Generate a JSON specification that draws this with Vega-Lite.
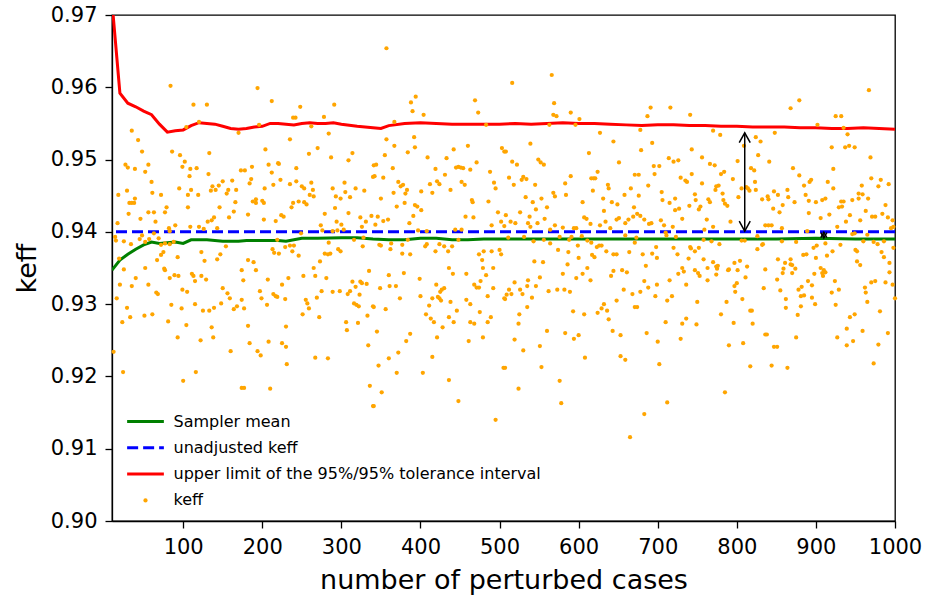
{
"$schema": "https://vega.github.io/schema/vega-lite/v6.json",
"width": 783, "height": 506,
"autosize": {"type": "none"},
"padding": {"left": 112, "top": 15, "right": 32, "bottom": 80},
"background": "white",
"config": {
  "view": {"stroke": "black", "strokeWidth": 1.3},
  "font": "DejaVu Sans",
  "axis": {"grid": false, "domainColor": "black", "domainWidth": 1.3, "tickColor": "black", "tickWidth": 1.3, "tickSize": 7, "labelColor": "black", "labelFont": "DejaVu Sans", "labelFontSize": 21, "titleFont": "DejaVu Sans", "titleFontSize": 27, "titleFontWeight": "normal", "titleColor": "black", "labelPadding": 8, "labelOverlap": false, "labelFlush": false}
},
"datasets": {
  "mean": [
    {"case":10,"keff":0.9347},{"case":20,"keff":0.9361},{"case":30,"keff":0.9369},{"case":40,"keff":0.9376},{"case":50,"keff":0.9382},{"case":60,"keff":0.9386},{"case":70,"keff":0.9384},{"case":80,"keff":0.9385},{"case":90,"keff":0.9386},{"case":100,"keff":0.9384},{"case":110,"keff":0.9389},{"case":120,"keff":0.9389},{"case":130,"keff":0.9389},{"case":140,"keff":0.9388},{"case":150,"keff":0.9387},{"case":160,"keff":0.9387},{"case":170,"keff":0.9387},{"case":180,"keff":0.9388},{"case":200,"keff":0.9388},{"case":220,"keff":0.9388},{"case":230,"keff":0.9387},{"case":240,"keff":0.9389},{"case":250,"keff":0.9391},{"case":270,"keff":0.9391},{"case":300,"keff":0.9392},{"case":320,"keff":0.9392},{"case":340,"keff":0.9390},{"case":360,"keff":0.9389},{"case":380,"keff":0.9389},{"case":400,"keff":0.9391},{"case":420,"keff":0.9391},{"case":440,"keff":0.9389},{"case":460,"keff":0.9389},{"case":480,"keff":0.9390},{"case":500,"keff":0.9390},{"case":550,"keff":0.9390},{"case":600,"keff":0.9390},{"case":650,"keff":0.9390},{"case":700,"keff":0.9390},{"case":750,"keff":0.9390},{"case":800,"keff":0.9390},{"case":850,"keff":0.9390},{"case":900,"keff":0.9391},{"case":950,"keff":0.9390},{"case":1000,"keff":0.9390}
  ],
  "limit": [
    {"case":10,"keff":0.9718},{"case":20,"keff":0.9592},{"case":30,"keff":0.9578},{"case":40,"keff":0.9573},{"case":50,"keff":0.9567},{"case":60,"keff":0.9562},{"case":70,"keff":0.9549},{"case":80,"keff":0.9538},{"case":90,"keff":0.9540},{"case":100,"keff":0.9541},{"case":110,"keff":0.9547},{"case":120,"keff":0.9551},{"case":130,"keff":0.9550},{"case":140,"keff":0.9549},{"case":150,"keff":0.9546},{"case":160,"keff":0.9543},{"case":170,"keff":0.9542},{"case":180,"keff":0.9543},{"case":190,"keff":0.9545},{"case":200,"keff":0.9546},{"case":210,"keff":0.9550},{"case":220,"keff":0.9550},{"case":230,"keff":0.9549},{"case":240,"keff":0.9548},{"case":250,"keff":0.9550},{"case":260,"keff":0.9551},{"case":270,"keff":0.9550},{"case":280,"keff":0.9550},{"case":290,"keff":0.9551},{"case":300,"keff":0.9549},{"case":320,"keff":0.9546},{"case":340,"keff":0.9544},{"case":350,"keff":0.9543},{"case":360,"keff":0.9547},{"case":380,"keff":0.9550},{"case":400,"keff":0.9551},{"case":420,"keff":0.9550},{"case":440,"keff":0.9549},{"case":460,"keff":0.9549},{"case":480,"keff":0.9549},{"case":500,"keff":0.9549},{"case":520,"keff":0.9550},{"case":540,"keff":0.9549},{"case":560,"keff":0.9550},{"case":580,"keff":0.9551},{"case":600,"keff":0.9550},{"case":620,"keff":0.9550},{"case":640,"keff":0.9549},{"case":660,"keff":0.9548},{"case":680,"keff":0.9547},{"case":700,"keff":0.9548},{"case":720,"keff":0.9548},{"case":740,"keff":0.9547},{"case":760,"keff":0.9547},{"case":780,"keff":0.9546},{"case":800,"keff":0.9546},{"case":820,"keff":0.9545},{"case":840,"keff":0.9545},{"case":860,"keff":0.9545},{"case":880,"keff":0.9544},{"case":900,"keff":0.9544},{"case":920,"keff":0.9543},{"case":940,"keff":0.9543},{"case":960,"keff":0.9544},{"case":980,"keff":0.9543},{"case":1000,"keff":0.9542}
  ],
  "longArrow": [{"case":810,"lower":0.9401,"upper":0.9537}],
  "shortArrow": [{"case":910,"lower":0.93915,"upper":0.93995}],
  "samples": [
{"case":84,"keff":0.9602},{"case":113,"keff":0.9576},{"case":130,"keff":0.9576},{"case":104,"keff":0.9545},{"case":120,"keff":0.9552},{"case":170,"keff":0.9537},{"case":35,"keff":0.9540},{"case":43,"keff":0.9527},{"case":48,"keff":0.9511},{"case":86,"keff":0.9511},{"case":96,"keff":0.9506},{"case":133,"keff":0.9509},{"case":102,"keff":0.9497},{"case":27,"keff":0.9493},{"case":30,"keff":0.9489},{"case":39,"keff":0.9487},{"case":56,"keff":0.9493},{"case":52,"keff":0.9483},{"case":99,"keff":0.9490},{"case":109,"keff":0.9487},{"case":117,"keff":0.9488},{"case":108,"keff":0.9477},{"case":132,"keff":0.9480},{"case":173,"keff":0.9485},{"case":60,"keff":0.9469},{"case":95,"keff":0.9460},{"case":110,"keff":0.9458},{"case":18,"keff":0.9451},{"case":29,"keff":0.9457},{"case":61,"keff":0.9454},{"case":72,"keff":0.9451},{"case":106,"keff":0.9451},{"case":119,"keff":0.9451},{"case":135,"keff":0.9457},{"case":141,"keff":0.9458},{"case":137,"keff":0.9463},{"case":145,"keff":0.9464},{"case":150,"keff":0.9470},{"case":162,"keff":0.9471},{"case":157,"keff":0.9458},{"case":155,"keff":0.9453},{"case":167,"keff":0.9458},{"case":39,"keff":0.9446},{"case":35,"keff":0.9440},{"case":32,"keff":0.9440},{"case":38,"keff":0.9440},{"case":56,"keff":0.9427},{"case":63,"keff":0.9427},{"case":31,"keff":0.9425},{"case":77,"keff":0.9427},{"case":79,"keff":0.9434},{"case":106,"keff":0.9434},{"case":146,"keff":0.9434},{"case":166,"keff":0.9441},{"case":164,"keff":0.9428},{"case":158,"keff":0.9420},{"case":139,"keff":0.9420},{"case":136,"keff":0.9416},{"case":131,"keff":0.9414},{"case":17,"keff":0.9412},{"case":65,"keff":0.9414},{"case":46,"keff":0.9418},{"case":90,"keff":0.9409},{"case":109,"keff":0.9407},{"case":120,"keff":0.9407},{"case":126,"keff":0.9404},{"case":143,"keff":0.9405},{"case":14,"keff":0.9393},{"case":15,"keff":0.9388},{"case":25,"keff":0.9387},{"case":34,"keff":0.9383},{"case":45,"keff":0.9390},{"case":48,"keff":0.9395},{"case":52,"keff":0.9386},{"case":57,"keff":0.9390},{"case":69,"keff":0.9391},{"case":72,"keff":0.9382},{"case":82,"keff":0.9405},{"case":83,"keff":0.9401},{"case":88,"keff":0.9386},{"case":63,"keff":0.9398},{"case":77,"keff":0.9384},{"case":83,"keff":0.9383},{"case":75,"keff":0.9372},{"case":72,"keff":0.9368},{"case":67,"keff":0.9361},{"case":93,"keff":0.9365},{"case":123,"keff":0.9372},{"case":127,"keff":0.9360},{"case":147,"keff":0.9369},{"case":143,"keff":0.9362},{"case":154,"keff":0.9380},{"case":174,"keff":0.9347},{"case":19,"keff":0.9363},{"case":25,"keff":0.9348},{"case":52,"keff":0.9350},{"case":76,"keff":0.9349},{"case":77,"keff":0.9347},{"case":83,"keff":0.9336},{"case":89,"keff":0.9340},{"case":94,"keff":0.9339},{"case":111,"keff":0.9342},{"case":113,"keff":0.9339},{"case":115,"keff":0.9332},{"case":123,"keff":0.9339},{"case":129,"keff":0.9334},{"case":40,"keff":0.9336},{"case":20,"keff":0.9327},{"case":35,"keff":0.9325},{"case":56,"keff":0.9327},{"case":66,"keff":0.9316},{"case":68,"keff":0.9314},{"case":99,"keff":0.9320},{"case":105,"keff":0.9317},{"case":150,"keff":0.9322},{"case":156,"keff":0.9315},{"case":159,"keff":0.9308},{"case":174,"keff":0.9306},{"case":16,"keff":0.9308},{"case":29,"keff":0.9295},{"case":85,"keff":0.9299},{"case":98,"keff":0.9294},{"case":115,"keff":0.9300},{"case":125,"keff":0.9291},{"case":133,"keff":0.9291},{"case":139,"keff":0.9295},{"case":148,"keff":0.9301},{"case":168,"keff":0.9297},{"case":164,"keff":0.9293},{"case":33,"keff":0.9282},{"case":23,"keff":0.9275},{"case":51,"keff":0.9284},{"case":61,"keff":0.9286},{"case":81,"keff":0.9276},{"case":104,"keff":0.9271},{"case":136,"keff":0.9268},{"case":93,"keff":0.9254},{"case":122,"keff":0.9250},{"case":138,"keff":0.9254},{"case":12,"keff":0.9234},{"case":160,"keff":0.9235},{"case":24,"keff":0.9206},{"case":116,"keff":0.9206},{"case":100,"keff":0.9194},{"case":174,"keff":0.9184},
{"case":194,"keff":0.9599},{"case":212,"keff":0.9581},{"case":248,"keff":0.9573},{"case":291,"keff":0.9576},{"case":239,"keff":0.9558},{"case":242,"keff":0.9558},{"case":278,"keff":0.9559},{"case":196,"keff":0.9548},{"case":262,"keff":0.9546},{"case":284,"keff":0.9536},{"case":235,"keff":0.9528},{"case":204,"keff":0.9514},{"case":270,"keff":0.9516},{"case":259,"keff":0.9508},{"case":287,"keff":0.9503},{"case":314,"keff":0.9509},{"case":309,"keff":0.9499},{"case":208,"keff":0.9493},{"case":220,"keff":0.9495},{"case":221,"keff":0.9494},{"case":243,"keff":0.9488},{"case":187,"keff":0.9490},{"case":178,"keff":0.9485},{"case":212,"keff":0.9482},{"case":341,"keff":0.9492},{"case":340,"keff":0.9476},{"case":186,"keff":0.9473},{"case":184,"keff":0.9467},{"case":223,"keff":0.9472},{"case":243,"keff":0.9470},{"case":235,"keff":0.9466},{"case":250,"keff":0.9463},{"case":253,"keff":0.9460},{"case":262,"keff":0.9468},{"case":264,"keff":0.9458},{"case":260,"keff":0.9451},{"case":265,"keff":0.9449},{"case":289,"keff":0.9460},{"case":304,"keff":0.9468},{"case":305,"keff":0.9455},{"case":318,"keff":0.9460},{"case":329,"keff":0.9457},{"case":311,"keff":0.9448},{"case":299,"keff":0.9446},{"case":293,"keff":0.9449},{"case":203,"keff":0.9460},{"case":214,"keff":0.9465},{"case":192,"keff":0.9445},{"case":188,"keff":0.9442},{"case":192,"keff":0.9440},{"case":200,"keff":0.9443},{"case":202,"keff":0.9440},{"case":239,"keff":0.9440},{"case":237,"keff":0.9434},{"case":246,"keff":0.9442},{"case":253,"keff":0.9441},{"case":256,"keff":0.9438},{"case":279,"keff":0.9425},{"case":292,"keff":0.9433},{"case":309,"keff":0.9426},{"case":324,"keff":0.9420},{"case":338,"keff":0.9422},{"case":182,"keff":0.9424},{"case":224,"keff":0.9423},{"case":227,"keff":0.9421},{"case":202,"keff":0.9417},{"case":217,"keff":0.9415},{"case":274,"keff":0.9409},{"case":276,"keff":0.9402},{"case":300,"keff":0.9410},{"case":294,"keff":0.9414},{"case":295,"keff":0.9402},{"case":303,"keff":0.9403},{"case":331,"keff":0.9414},{"case":326,"keff":0.9407},{"case":289,"keff":0.9401},{"case":249,"keff":0.9398},{"case":284,"keff":0.9385},{"case":316,"keff":0.9389},{"case":328,"keff":0.9392},{"case":219,"keff":0.9389},{"case":229,"keff":0.9379},{"case":235,"keff":0.9381},{"case":240,"keff":0.9381},{"case":213,"keff":0.9376},{"case":215,"keff":0.9371},{"case":221,"keff":0.9370},{"case":238,"keff":0.9373},{"case":246,"keff":0.9367},{"case":279,"keff":0.9370},{"case":283,"keff":0.9369},{"case":286,"keff":0.9370},{"case":296,"keff":0.9376},{"case":299,"keff":0.9373},{"case":327,"keff":0.9380},{"case":273,"keff":0.9359},{"case":182,"keff":0.9361},{"case":189,"keff":0.9358},{"case":192,"keff":0.9347},{"case":265,"keff":0.9350},{"case":267,"keff":0.9339},{"case":252,"keff":0.9339},{"case":281,"keff":0.9336},{"case":207,"keff":0.9334},{"case":233,"keff":0.9336},{"case":225,"keff":0.9327},{"case":176,"keff":0.9333},{"case":197,"keff":0.9318},{"case":199,"keff":0.9308},{"case":214,"keff":0.9314},{"case":217,"keff":0.9311},{"case":219,"keff":0.9310},{"case":229,"keff":0.9307},{"case":206,"keff":0.9299},{"case":255,"keff":0.9306},{"case":257,"keff":0.9301},{"case":259,"keff":0.9294},{"case":275,"keff":0.9318},{"case":269,"keff":0.9309},{"case":289,"keff":0.9317},{"case":298,"keff":0.9318},{"case":314,"keff":0.9331},{"case":311,"keff":0.9318},{"case":308,"keff":0.9314},{"case":318,"keff":0.9324},{"case":324,"keff":0.9331},{"case":326,"keff":0.9329},{"case":332,"keff":0.9328},{"case":323,"keff":0.9313},{"case":316,"keff":0.9301},{"case":319,"keff":0.9299},{"case":322,"keff":0.9297},{"case":335,"keff":0.9346},{"case":340,"keff":0.9297},{"case":177,"keff":0.9294},{"case":251,"keff":0.9286},{"case":272,"keff":0.9282},{"case":306,"keff":0.9275},{"case":307,"keff":0.9264},{"case":321,"keff":0.9274},{"case":333,"keff":0.9284},{"case":182,"keff":0.9270},{"case":230,"keff":0.9269},{"case":184,"keff":0.9246},{"case":208,"keff":0.9248},{"case":225,"keff":0.9246},{"case":230,"keff":0.9241},{"case":194,"keff":0.9235},{"case":198,"keff":0.9229},{"case":231,"keff":0.9217},{"case":267,"keff":0.9226},{"case":283,"keff":0.9225},{"case":334,"keff":0.9243},{"case":177,"keff":0.9184},{"case":210,"keff":0.9183},{"case":336,"keff":0.9187},{"case":340,"keff":0.9159},
{"case":357,"keff":0.9654},{"case":394,"keff":0.9587},{"case":388,"keff":0.9579},{"case":390,"keff":0.9567},{"case":404,"keff":0.9562},{"case":469,"keff":0.9582},{"case":473,"keff":0.9565},{"case":367,"keff":0.9552},{"case":483,"keff":0.9548},{"case":357,"keff":0.9528},{"case":392,"keff":0.9531},{"case":393,"keff":0.9517},{"case":367,"keff":0.9519},{"case":384,"keff":0.9510},{"case":355,"keff":0.9506},{"case":442,"keff":0.9514},{"case":460,"keff":0.9519},{"case":503,"keff":0.9516},{"case":506,"keff":0.9511},{"case":409,"keff":0.9503},{"case":433,"keff":0.9502},{"case":471,"keff":0.9496},{"case":344,"keff":0.9493},{"case":365,"keff":0.9488},{"case":419,"keff":0.9487},{"case":445,"keff":0.9489},{"case":448,"keff":0.9490},{"case":451,"keff":0.9489},{"case":454,"keff":0.9488},{"case":463,"keff":0.9486},{"case":488,"keff":0.9483},{"case":342,"keff":0.9477},{"case":353,"keff":0.9475},{"case":372,"keff":0.9469},{"case":375,"keff":0.9463},{"case":378,"keff":0.9465},{"case":383,"keff":0.9458},{"case":381,"keff":0.9453},{"case":366,"keff":0.9454},{"case":421,"keff":0.9470},{"case":424,"keff":0.9466},{"case":412,"keff":0.9466},{"case":431,"keff":0.9479},{"case":452,"keff":0.9469},{"case":456,"keff":0.9465},{"case":438,"keff":0.9458},{"case":415,"keff":0.9454},{"case":401,"keff":0.9456},{"case":493,"keff":0.9468},{"case":495,"keff":0.9460},{"case":465,"keff":0.9444},{"case":466,"keff":0.9441},{"case":486,"keff":0.9442},{"case":350,"keff":0.9446},{"case":380,"keff":0.9440},{"case":370,"keff":0.9435},{"case":393,"keff":0.9437},{"case":396,"keff":0.9435},{"case":401,"keff":0.9430},{"case":391,"keff":0.9422},{"case":386,"keff":0.9412},{"case":457,"keff":0.9421},{"case":467,"keff":0.9420},{"case":498,"keff":0.9427},{"case":502,"keff":0.9414},{"case":506,"keff":0.9408},{"case":490,"keff":0.9409},{"case":346,"keff":0.9421},{"case":343,"keff":0.9410},{"case":353,"keff":0.9415},{"case":359,"keff":0.9417},{"case":397,"keff":0.9402},{"case":408,"keff":0.9401},{"case":444,"keff":0.9403},{"case":452,"keff":0.9403},{"case":448,"keff":0.9389},{"case":384,"keff":0.9389},{"case":348,"keff":0.9382},{"case":350,"keff":0.9381},{"case":363,"keff":0.9384},{"case":362,"keff":0.9376},{"case":377,"keff":0.9382},{"case":387,"keff":0.9369},{"case":377,"keff":0.9370},{"case":406,"keff":0.9380},{"case":408,"keff":0.9383},{"case":419,"keff":0.9373},{"case":424,"keff":0.9383},{"case":430,"keff":0.9380},{"case":435,"keff":0.9373},{"case":440,"keff":0.9380},{"case":474,"keff":0.9369},{"case":480,"keff":0.9373},{"case":490,"keff":0.9373},{"case":500,"keff":0.9375},{"case":502,"keff":0.9369},{"case":478,"keff":0.9361},{"case":479,"keff":0.9350},{"case":492,"keff":0.9350},{"case":483,"keff":0.9340},{"case":436,"keff":0.9350},{"case":441,"keff":0.9342},{"case":458,"keff":0.9342},{"case":360,"keff":0.9340},{"case":379,"keff":0.9343},{"case":399,"keff":0.9335},{"case":349,"keff":0.9322},{"case":361,"keff":0.9325},{"case":369,"keff":0.9325},{"case":420,"keff":0.9327},{"case":430,"keff":0.9322},{"case":427,"keff":0.9320},{"case":425,"keff":0.9317},{"case":468,"keff":0.9327},{"case":471,"keff":0.9323},{"case":474,"keff":0.9323},{"case":476,"keff":0.9332},{"case":492,"keff":0.9322},{"case":400,"keff":0.9311},{"case":374,"keff":0.9308},{"case":415,"keff":0.9308},{"case":422,"keff":0.9310},{"case":424,"keff":0.9308},{"case":426,"keff":0.9305},{"case":438,"keff":0.9303},{"case":458,"keff":0.9306},{"case":463,"keff":0.9300},{"case":485,"keff":0.9311},{"case":506,"keff":0.9308},{"case":411,"keff":0.9298},{"case":407,"keff":0.9286},{"case":413,"keff":0.9280},{"case":417,"keff":0.9275},{"case":436,"keff":0.9282},{"case":442,"keff":0.9275},{"case":446,"keff":0.9291},{"case":463,"keff":0.9275},{"case":468,"keff":0.9273},{"case":475,"keff":0.9289},{"case":485,"keff":0.9275},{"case":489,"keff":0.9282},{"case":341,"keff":0.9296},{"case":356,"keff":0.9293},{"case":345,"keff":0.9262},{"case":387,"keff":0.9259},{"case":382,"keff":0.9249},{"case":421,"keff":0.9254},{"case":428,"keff":0.9268},{"case":461,"keff":0.9249},{"case":479,"keff":0.9254},{"case":372,"keff":0.9233},{"case":360,"keff":0.9225},{"case":347,"keff":0.9215},{"case":415,"keff":0.9227},{"case":370,"keff":0.9205},{"case":403,"keff":0.9205},{"case":436,"keff":0.9195},{"case":505,"keff":0.9212},{"case":351,"keff":0.9178},{"case":448,"keff":0.9166},{"case":341,"keff":0.9159},{"case":495,"keff":0.9140},
{"case":566,"keff":0.9617},{"case":516,"keff":0.9606},{"case":569,"keff":0.9578},{"case":568,"keff":0.9562},{"case":572,"keff":0.9560},{"case":590,"keff":0.9565},{"case":601,"keff":0.9556},{"case":563,"keff":0.9548},{"case":596,"keff":0.9548},{"case":627,"keff":0.9537},{"case":644,"keff":0.9525},{"case":539,"keff":0.9522},{"case":508,"keff":0.9511},{"case":613,"keff":0.9509},{"case":549,"keff":0.9500},{"case":552,"keff":0.9496},{"case":556,"keff":0.9493},{"case":516,"keff":0.9497},{"case":522,"keff":0.9493},{"case":651,"keff":0.9496},{"case":512,"keff":0.9475},{"case":530,"keff":0.9476},{"case":528,"keff":0.9472},{"case":534,"keff":0.9473},{"case":518,"keff":0.9465},{"case":545,"keff":0.9465},{"case":590,"keff":0.9477},{"case":583,"keff":0.9467},{"case":616,"keff":0.9474},{"case":619,"keff":0.9474},{"case":621,"keff":0.9474},{"case":624,"keff":0.9483},{"case":637,"keff":0.9465},{"case":638,"keff":0.9460},{"case":618,"keff":0.9457},{"case":568,"keff":0.9454},{"case":570,"keff":0.9449},{"case":584,"keff":0.9451},{"case":533,"keff":0.9448},{"case":542,"keff":0.9441},{"case":553,"keff":0.9446},{"case":605,"keff":0.9441},{"case":631,"keff":0.9446},{"case":642,"keff":0.9441},{"case":649,"keff":0.9438},{"case":658,"keff":0.9451},{"case":666,"keff":0.9460},{"case":671,"keff":0.9479},{"case":560,"keff":0.9434},{"case":546,"keff":0.9431},{"case":526,"keff":0.9427},{"case":508,"keff":0.9423},{"case":538,"keff":0.9421},{"case":548,"keff":0.9412},{"case":557,"keff":0.9418},{"case":514,"keff":0.9414},{"case":520,"keff":0.9412},{"case":536,"keff":0.9412},{"case":539,"keff":0.9407},{"case":570,"keff":0.9409},{"case":564,"keff":0.9403},{"case":580,"keff":0.9406},{"case":594,"keff":0.9405},{"case":597,"keff":0.9405},{"case":607,"keff":0.9420},{"case":610,"keff":0.9418},{"case":615,"keff":0.9411},{"case":632,"keff":0.9429},{"case":627,"keff":0.9409},{"case":634,"keff":0.9414},{"case":640,"keff":0.9405},{"case":648,"keff":0.9417},{"case":651,"keff":0.9419},{"case":659,"keff":0.9412},{"case":663,"keff":0.9417},{"case":669,"keff":0.9421},{"case":670,"keff":0.9434},{"case":659,"keff":0.9395},{"case":511,"keff":0.9392},{"case":531,"keff":0.9393},{"case":543,"keff":0.9387},{"case":556,"keff":0.9389},{"case":564,"keff":0.9384},{"case":576,"keff":0.9393},{"case":588,"keff":0.9389},{"case":591,"keff":0.9393},{"case":604,"keff":0.9394},{"case":611,"keff":0.9388},{"case":616,"keff":0.9385},{"case":599,"keff":0.9381},{"case":587,"keff":0.9372},{"case":574,"keff":0.9375},{"case":600,"keff":0.9364},{"case":617,"keff":0.9368},{"case":620,"keff":0.9365},{"case":623,"keff":0.9379},{"case":626,"keff":0.9381},{"case":629,"keff":0.9381},{"case":635,"keff":0.9373},{"case":644,"keff":0.9369},{"case":648,"keff":0.9369},{"case":664,"keff":0.9372},{"case":671,"keff":0.9385},{"case":544,"keff":0.9359},{"case":555,"keff":0.9358},{"case":586,"keff":0.9355},{"case":580,"keff":0.9342},{"case":597,"keff":0.9336},{"case":605,"keff":0.9342},{"case":611,"keff":0.9350},{"case":615,"keff":0.9333},{"case":641,"keff":0.9339},{"case":644,"keff":0.9346},{"case":655,"keff":0.9347},{"case":661,"keff":0.9344},{"case":551,"keff":0.9337},{"case":536,"keff":0.9333},{"case":519,"keff":0.9330},{"case":535,"keff":0.9325},{"case":546,"keff":0.9325},{"case":512,"keff":0.9320},{"case":509,"keff":0.9313},{"case":515,"keff":0.9314},{"case":526,"keff":0.9320},{"case":529,"keff":0.9314},{"case":541,"keff":0.9309},{"case":562,"keff":0.9318},{"case":573,"keff":0.9320},{"case":582,"keff":0.9320},{"case":589,"keff":0.9317},{"case":657,"keff":0.9320},{"case":668,"keff":0.9314},{"case":507,"keff":0.9307},{"case":535,"keff":0.9296},{"case":525,"keff":0.9286},{"case":524,"keff":0.9273},{"case":593,"keff":0.9290},{"case":607,"keff":0.9286},{"case":624,"keff":0.9288},{"case":629,"keff":0.9294},{"case":632,"keff":0.9300},{"case":636,"keff":0.9291},{"case":638,"keff":0.9279},{"case":648,"keff":0.9305},{"case":643,"keff":0.9263},{"case":653,"keff":0.9257},{"case":671,"keff":0.9296},{"case":519,"keff":0.9251},{"case":530,"keff":0.9236},{"case":551,"keff":0.9242},{"case":560,"keff":0.9263},{"case":583,"keff":0.9260},{"case":594,"keff":0.9252},{"case":600,"keff":0.9257},{"case":608,"keff":0.9226},{"case":653,"keff":0.9228},{"case":659,"keff":0.9223},{"case":553,"keff":0.9213},{"case":507,"keff":0.9212},{"case":524,"keff":0.9183},{"case":576,"keff":0.9194},{"case":578,"keff":0.9163},{"case":665,"keff":0.9116},
{"case":691,"keff":0.9572},{"case":716,"keff":0.9572},{"case":687,"keff":0.9560},{"case":741,"keff":0.9562},{"case":678,"keff":0.9541},{"case":770,"keff":0.9540},{"case":779,"keff":0.9534},{"case":693,"keff":0.9523},{"case":809,"keff":0.9519},{"case":824,"keff":0.9531},{"case":830,"keff":0.9525},{"case":679,"keff":0.9513},{"case":743,"keff":0.9514},{"case":714,"keff":0.9502},{"case":720,"keff":0.9497},{"case":726,"keff":0.9499},{"case":756,"keff":0.9503},{"case":766,"keff":0.9494},{"case":772,"keff":0.9492},{"case":801,"keff":0.9498},{"case":827,"keff":0.9506},{"case":695,"keff":0.9491},{"case":702,"keff":0.9491},{"case":696,"keff":0.9480},{"case":676,"keff":0.9479},{"case":729,"keff":0.9475},{"case":735,"keff":0.9471},{"case":737,"keff":0.9469},{"case":743,"keff":0.9480},{"case":780,"keff":0.9480},{"case":784,"keff":0.9483},{"case":756,"keff":0.9467},{"case":795,"keff":0.9473},{"case":818,"keff":0.9488},{"case":822,"keff":0.9485},{"case":823,"keff":0.9469},{"case":688,"keff":0.9464},{"case":774,"keff":0.9463},{"case":777,"keff":0.9464},{"case":806,"keff":0.9460},{"case":814,"keff":0.9460},{"case":816,"keff":0.9457},{"case":824,"keff":0.9458},{"case":676,"keff":0.9450},{"case":705,"keff":0.9455},{"case":706,"keff":0.9444},{"case":722,"keff":0.9446},{"case":715,"keff":0.9440},{"case":740,"keff":0.9436},{"case":747,"keff":0.9452},{"case":748,"keff":0.9444},{"case":752,"keff":0.9431},{"case":754,"keff":0.9435},{"case":764,"keff":0.9445},{"case":766,"keff":0.9441},{"case":773,"keff":0.9458},{"case":782,"keff":0.9453},{"case":783,"keff":0.9444},{"case":785,"keff":0.9439},{"case":788,"keff":0.9436},{"case":802,"keff":0.9448},{"case":812,"keff":0.9462},{"case":832,"keff":0.9445},{"case":722,"keff":0.9430},{"case":727,"keff":0.9432},{"case":731,"keff":0.9418},{"case":674,"keff":0.9425},{"case":678,"keff":0.9422},{"case":683,"keff":0.9417},{"case":689,"keff":0.9411},{"case":692,"keff":0.9412},{"case":704,"keff":0.9416},{"case":708,"keff":0.9409},{"case":719,"keff":0.9407},{"case":762,"keff":0.9417},{"case":770,"keff":0.9407},{"case":759,"keff":0.9403},{"case":792,"keff":0.9414},{"case":710,"keff":0.9399},{"case":711,"keff":0.9395},{"case":723,"keff":0.9393},{"case":673,"keff":0.9392},{"case":758,"keff":0.9389},{"case":768,"keff":0.9387},{"case":778,"keff":0.9383},{"case":806,"keff":0.9388},{"case":810,"keff":0.9388},{"case":826,"keff":0.9394},{"case":836,"keff":0.9409},{"case":698,"keff":0.9379},{"case":681,"keff":0.9369},{"case":693,"keff":0.9370},{"case":699,"keff":0.9364},{"case":720,"keff":0.9378},{"case":725,"keff":0.9369},{"case":741,"keff":0.9379},{"case":742,"keff":0.9377},{"case":747,"keff":0.9373},{"case":752,"keff":0.9378},{"case":739,"keff":0.9363},{"case":758,"keff":0.9362},{"case":770,"keff":0.9358},{"case":763,"keff":0.9350},{"case":774,"keff":0.9352},{"case":775,"keff":0.9349},{"case":776,"keff":0.9353},{"case":789,"keff":0.9347},{"case":790,"keff":0.9348},{"case":797,"keff":0.9357},{"case":801,"keff":0.9347},{"case":804,"keff":0.9360},{"case":813,"keff":0.9352},{"case":826,"keff":0.9376},{"case":832,"keff":0.9382},{"case":833,"keff":0.9383},{"case":685,"keff":0.9353},{"case":726,"keff":0.9342},{"case":731,"keff":0.9350},{"case":733,"keff":0.9345},{"case":747,"keff":0.9347},{"case":751,"keff":0.9343},{"case":753,"keff":0.9339},{"case":763,"keff":0.9333},{"case":774,"keff":0.9341},{"case":800,"keff":0.9329},{"case":797,"keff":0.9325},{"case":798,"keff":0.9317},{"case":811,"keff":0.9337},{"case":683,"keff":0.9332},{"case":715,"keff":0.9333},{"case":699,"keff":0.9327},{"case":688,"keff":0.9323},{"case":678,"keff":0.9317},{"case":697,"keff":0.9311},{"case":712,"keff":0.9305},{"case":718,"keff":0.9311},{"case":736,"keff":0.9327},{"case":750,"keff":0.9303},{"case":787,"keff":0.9303},{"case":807,"keff":0.9307},{"case":836,"keff":0.9348},{"case":834,"keff":0.9322},{"case":674,"keff":0.9296},{"case":780,"keff":0.9286},{"case":817,"keff":0.9291},{"case":819,"keff":0.9291},{"case":710,"keff":0.9275},{"case":731,"keff":0.9273},{"case":736,"keff":0.9280},{"case":749,"keff":0.9272},{"case":796,"keff":0.9274},{"case":820,"keff":0.9273},{"case":686,"keff":0.9260},{"case":700,"keff":0.9248},{"case":729,"keff":0.9252},{"case":790,"keff":0.9243},{"case":808,"keff":0.9246},{"case":836,"keff":0.9258},{"case":702,"keff":0.9217},{"case":817,"keff":0.9214},{"case":785,"keff":0.9178},{"case":712,"keff":0.9164},{"case":683,"keff":0.9148},
{"case":967,"keff":0.9596},{"case":879,"keff":0.9582},{"case":868,"keff":0.9571},{"case":925,"keff":0.9560},{"case":932,"keff":0.9560},{"case":902,"keff":0.9548},{"case":935,"keff":0.9544},{"case":848,"keff":0.9537},{"case":940,"keff":0.9535},{"case":920,"keff":0.9517},{"case":937,"keff":0.9517},{"case":942,"keff":0.9519},{"case":949,"keff":0.9517},{"case":969,"keff":0.9503},{"case":841,"keff":0.9497},{"case":871,"keff":0.9488},{"case":922,"keff":0.9487},{"case":879,"keff":0.9478},{"case":894,"keff":0.9472},{"case":892,"keff":0.9469},{"case":885,"keff":0.9464},{"case":915,"keff":0.9469},{"case":922,"keff":0.9460},{"case":970,"keff":0.9474},{"case":982,"keff":0.9472},{"case":979,"keff":0.9463},{"case":992,"keff":0.9466},{"case":958,"keff":0.9464},{"case":954,"keff":0.9453},{"case":959,"keff":0.9452},{"case":864,"keff":0.9458},{"case":847,"keff":0.9456},{"case":839,"keff":0.9449},{"case":840,"keff":0.9445},{"case":852,"keff":0.9451},{"case":865,"keff":0.9448},{"case":873,"keff":0.9441},{"case":887,"keff":0.9451},{"case":891,"keff":0.9443},{"case":900,"keff":0.9441},{"case":908,"keff":0.9444},{"case":912,"keff":0.9446},{"case":932,"keff":0.9442},{"case":935,"keff":0.9442},{"case":946,"keff":0.9444},{"case":954,"keff":0.9446},{"case":966,"keff":0.9446},{"case":858,"keff":0.9437},{"case":846,"keff":0.9432},{"case":854,"keff":0.9427},{"case":891,"keff":0.9426},{"case":929,"keff":0.9434},{"case":933,"keff":0.9435},{"case":917,"keff":0.9424},{"case":906,"keff":0.9419},{"case":943,"keff":0.9423},{"case":938,"keff":0.9414},{"case":956,"keff":0.9416},{"case":963,"keff":0.9429},{"case":971,"keff":0.9421},{"case":975,"keff":0.9421},{"case":984,"keff":0.9425},{"case":988,"keff":0.9437},{"case":991,"keff":0.9420},{"case":997,"keff":0.9416},{"case":998,"keff":0.9407},{"case":995,"keff":0.9405},{"case":840,"keff":0.9409},{"case":844,"keff":0.9409},{"case":857,"keff":0.9405},{"case":889,"keff":0.9401},{"case":965,"keff":0.9396},{"case":946,"keff":0.9397},{"case":949,"keff":0.9398},{"case":927,"keff":0.9407},{"case":912,"keff":0.9384},{"case":875,"keff":0.9386},{"case":857,"keff":0.9387},{"case":901,"keff":0.9381},{"case":897,"keff":0.9378},{"case":931,"keff":0.9382},{"case":921,"keff":0.9373},{"case":914,"keff":0.9367},{"case":900,"keff":0.9364},{"case":884,"keff":0.9368},{"case":888,"keff":0.9369},{"case":960,"keff":0.9387},{"case":973,"keff":0.9386},{"case":978,"keff":0.9383},{"case":986,"keff":0.9387},{"case":950,"keff":0.9375},{"case":952,"keff":0.9373},{"case":983,"keff":0.9372},{"case":986,"keff":0.9365},{"case":998,"keff":0.9378},{"case":852,"keff":0.9362},{"case":861,"keff":0.9357},{"case":868,"keff":0.9362},{"case":868,"keff":0.9355},{"case":870,"keff":0.9354},{"case":874,"keff":0.9349},{"case":859,"keff":0.9349},{"case":858,"keff":0.9343},{"case":870,"keff":0.9343},{"case":906,"keff":0.9350},{"case":908,"keff":0.9343},{"case":909,"keff":0.9339},{"case":912,"keff":0.9344},{"case":910,"keff":0.9347},{"case":898,"keff":0.9342},{"case":851,"keff":0.9334},{"case":890,"keff":0.9332},{"case":895,"keff":0.9326},{"case":924,"keff":0.9332},{"case":929,"keff":0.9320},{"case":920,"keff":0.9316},{"case":952,"keff":0.9359},{"case":956,"keff":0.9354},{"case":993,"keff":0.9357},{"case":993,"keff":0.9344},{"case":988,"keff":0.9330},{"case":970,"keff":0.9330},{"case":975,"keff":0.9332},{"case":997,"keff":0.9327},{"case":1000,"keff":0.9308},{"case":855,"keff":0.9319},{"case":878,"keff":0.9320},{"case":882,"keff":0.9324},{"case":881,"keff":0.9311},{"case":885,"keff":0.9312},{"case":895,"keff":0.9309},{"case":862,"keff":0.9307},{"case":899,"keff":0.9300},{"case":881,"keff":0.9297},{"case":962,"keff":0.9323},{"case":963,"keff":0.9316},{"case":965,"keff":0.9303},{"case":862,"keff":0.9295},{"case":877,"keff":0.9285},{"case":925,"keff":0.9299},{"case":943,"keff":0.9282},{"case":949,"keff":0.9286},{"case":981,"keff":0.9290},{"case":939,"keff":0.9266},{"case":959,"keff":0.9263},{"case":991,"keff":0.9260},{"case":838,"keff":0.9258},{"case":847,"keff":0.9241},{"case":851,"keff":0.9241},{"case":875,"keff":0.9254},{"case":927,"keff":0.9254},{"case":939,"keff":0.9243},{"case":947,"keff":0.9249},{"case":979,"keff":0.9244},{"case":844,"keff":0.9215},{"case":864,"keff":0.9212},{"case":973,"keff":0.9218}
  ]
},
"layer": [
  {
    "data": {"name": "mean"},
    "mark": {"type": "line", "strokeWidth": 3, "clip": true},
    "encoding": {
      "x": {"field": "case", "type": "quantitative", "title": "number of perturbed cases",
            "scale": {"domain": [10, 1000], "nice": false, "zero": false},
            "axis": {"values": [100,200,300,400,500,600,700,800,900,1000], "format": "d", "titlePadding": 10}},
      "y": {"field": "keff", "type": "quantitative", "title": "keff",
            "scale": {"domain": [0.9, 0.97], "nice": false, "zero": false},
            "axis": {"values": [0.90,0.91,0.92,0.93,0.94,0.95,0.96,0.97], "format": ".2f", "titlePadding": 9}},
      "color": {"datum": "Sampler mean", "type": "nominal",
        "scale": {"domain": ["Sampler mean", "unadjusted keff", "upper limit of the 95%/95% tolerance interval", "keff"], "range": ["green", "blue", "red", "orange"]},
        "legend": {
          "orient": "none", "legendX": 25.5, "legendY": 398.5, "title": null, "padding": 0,
          "symbolType": "stroke", "symbolSize": 1350, "symbolStrokeWidth": 3,
          "labelFontSize": 16, "labelFont": "DejaVu Sans", "labelColor": "black", "labelLimit": 600,
          "rowPadding": 10.3, "labelOffset": 20,
          "encode": {"symbols": {"update": {
            "shape": {"signal": "datum.value === 'keff' ? 'circle' : 'stroke'"},
            "size": {"signal": "datum.value === 'keff' ? 18 : 1350"},
            "strokeDash": {"signal": "datum.value === 'unadjusted keff' ? [11, 5] : [1, 0]"},
            "strokeWidth": {"signal": "datum.value === 'keff' ? 0 : 3"},
            "fill": {"signal": "datum.value === 'keff' ? 'orange' : 'transparent'"},
            "stroke": {"scale": "color", "field": "value"},
            "opacity": {"value": 1}
          }}}
        }}
    }
  },
  {
    "data": {"values": [{}]},
    "mark": {"type": "rule", "strokeWidth": 3, "strokeDash": [11, 5]},
    "encoding": {"y": {"datum": 0.94, "type": "quantitative"}, "color": {"datum": "unadjusted keff", "type": "nominal"}}
  },
  {
    "data": {"name": "limit"},
    "mark": {"type": "line", "strokeWidth": 3, "clip": true},
    "encoding": {
      "x": {"field": "case", "type": "quantitative", "title": "number of perturbed cases"},
      "y": {"field": "keff", "type": "quantitative", "title": "keff"},
      "color": {"datum": "upper limit of the 95%/95% tolerance interval", "type": "nominal"}
    }
  },
  {
    "data": {"name": "samples"},
    "mark": {"type": "circle", "size": 18, "opacity": 1},
    "encoding": {
      "x": {"field": "case", "type": "quantitative", "title": "number of perturbed cases"},
      "y": {"field": "keff", "type": "quantitative", "title": "keff"},
      "color": {"datum": "keff", "type": "nominal"}
    }
  },
  {
    "data": {"name": "longArrow"},
    "layer": [
      {"mark": {"type": "rule", "color": "black", "strokeWidth": 1.5},
       "encoding": {"x": {"field": "case", "type": "quantitative", "title": "number of perturbed cases"}, "y": {"field": "lower", "type": "quantitative", "title": "keff"}, "y2": {"field": "upper"}}},
      {"mark": {"type": "point", "shape": "M-1,1.8L0,0L1,1.8", "size": 121, "filled": false, "color": "black", "strokeWidth": 1.5, "opacity": 1},
       "encoding": {"x": {"field": "case", "type": "quantitative", "title": "number of perturbed cases"}, "y": {"field": "upper", "type": "quantitative", "title": "keff"}}},
      {"mark": {"type": "point", "shape": "M-1,-1.8L0,0L1,-1.8", "size": 121, "filled": false, "color": "black", "strokeWidth": 1.5, "opacity": 1},
       "encoding": {"x": {"field": "case", "type": "quantitative", "title": "number of perturbed cases"}, "y": {"field": "lower", "type": "quantitative", "title": "keff"}}}
    ]
  },
  {
    "data": {"name": "shortArrow"},
    "layer": [
      {"mark": {"type": "rule", "color": "black", "strokeWidth": 1.5},
       "encoding": {"x": {"field": "case", "type": "quantitative", "title": "number of perturbed cases"}, "y": {"field": "lower", "type": "quantitative", "title": "keff"}, "y2": {"field": "upper"}}},
      {"mark": {"type": "point", "shape": "M-1,1.8L0,0L1,1.8", "size": 36, "filled": false, "color": "black", "strokeWidth": 1.5, "opacity": 1},
       "encoding": {"x": {"field": "case", "type": "quantitative", "title": "number of perturbed cases"}, "y": {"field": "upper", "type": "quantitative", "title": "keff"}}},
      {"mark": {"type": "point", "shape": "M-1,-1.8L0,0L1,-1.8", "size": 36, "filled": false, "color": "black", "strokeWidth": 1.5, "opacity": 1},
       "encoding": {"x": {"field": "case", "type": "quantitative", "title": "number of perturbed cases"}, "y": {"field": "lower", "type": "quantitative", "title": "keff"}}}
    ]
  }
]
}
